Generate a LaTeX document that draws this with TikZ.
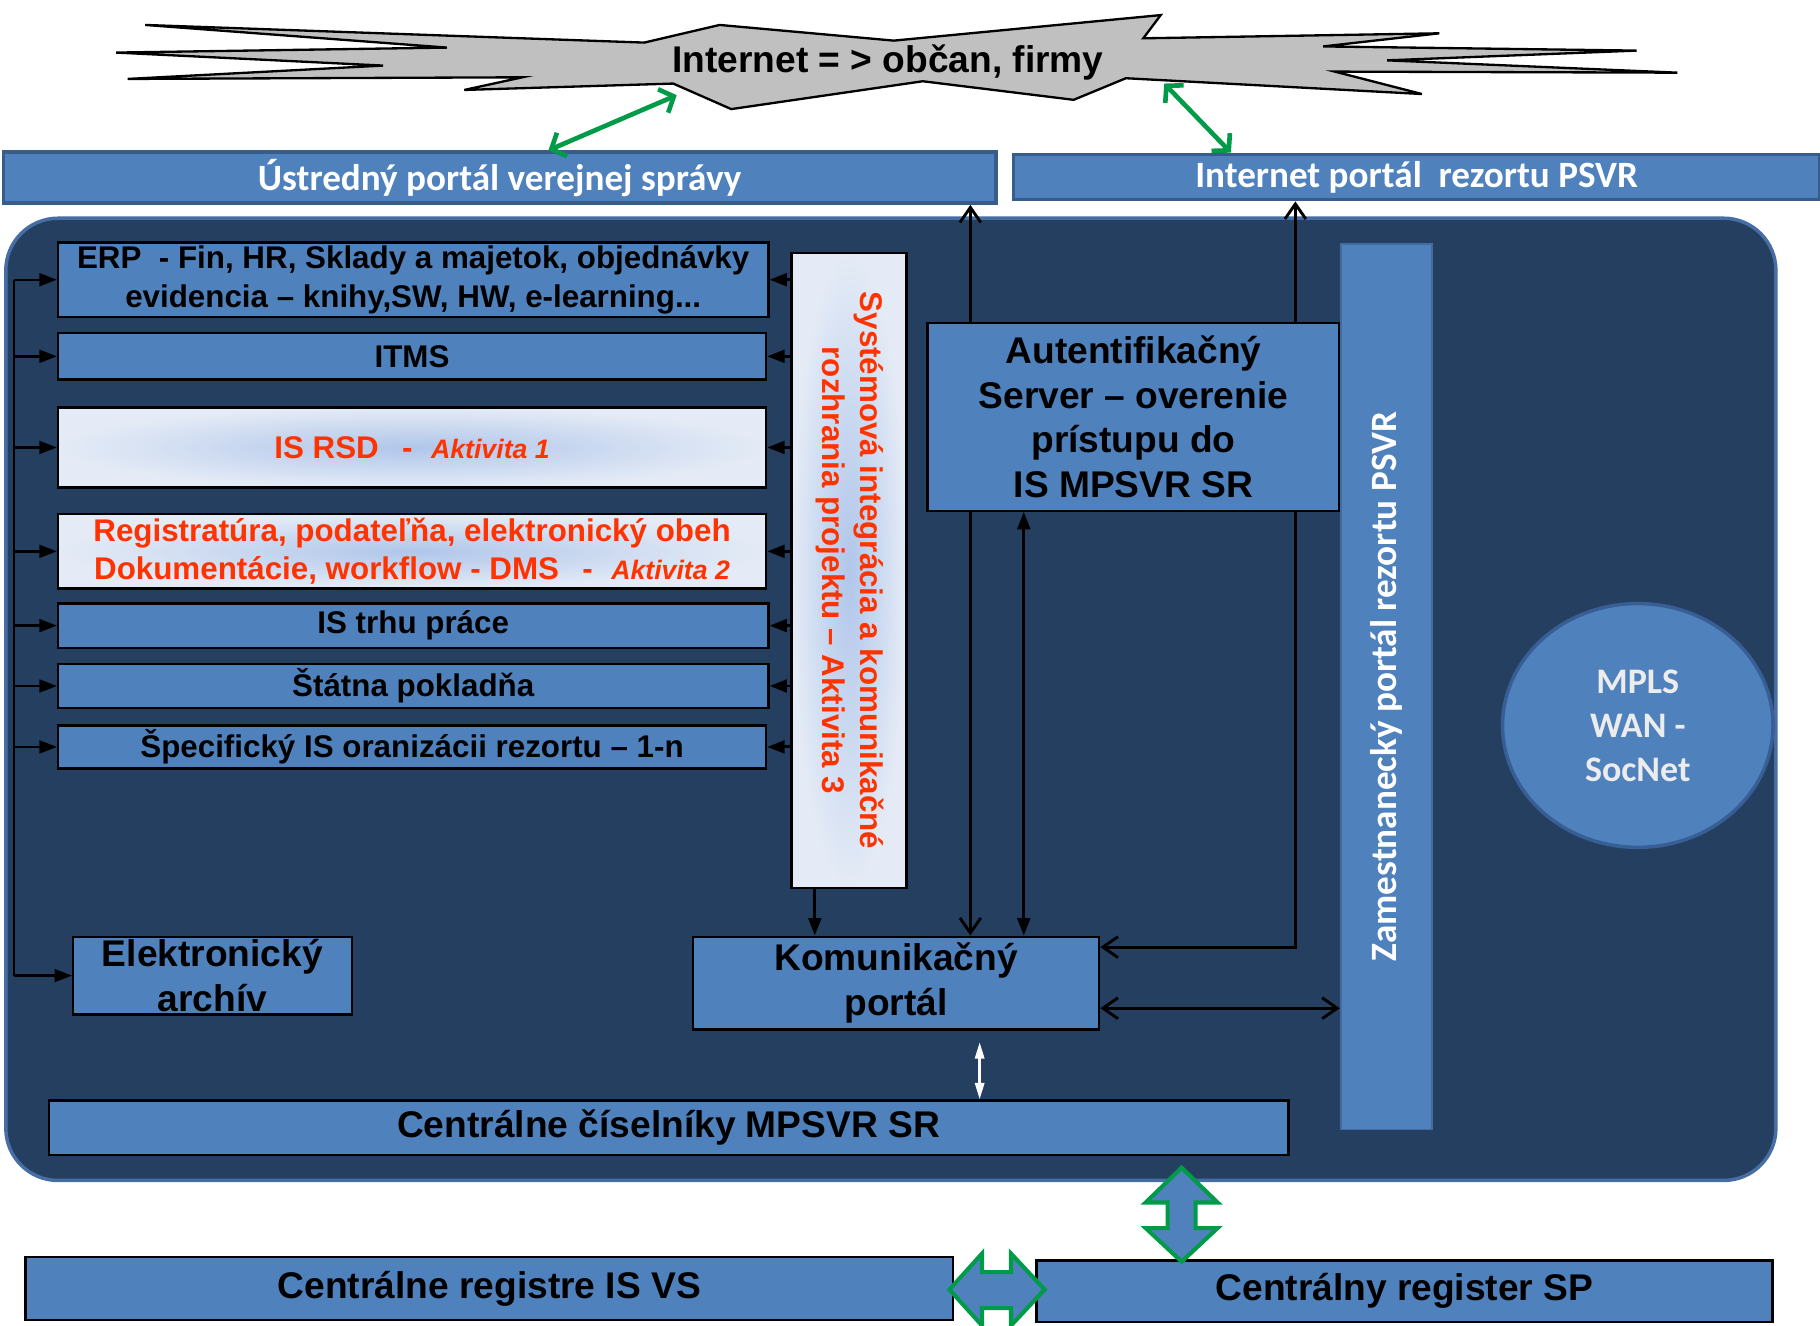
\documentclass[tikz,border=0pt]{standalone}
\usepackage{fontspec}
\setmainfont{Liberation Sans}
\newfontfamily\calibri{Carlito}
\usetikzlibrary{arrows.meta,shapes.geometric,calc}

\definecolor{boxblue}{RGB}{79,129,189}
\definecolor{navy}{RGB}{37,63,96}
\definecolor{panelrim}{RGB}{70,110,165}
\definecolor{barrim}{RGB}{56,93,138}
\definecolor{zamrim}{RGB}{66,108,160}
\definecolor{mplsrim}{RGB}{55,95,150}
\definecolor{mplstext}{RGB}{236,236,236}
\definecolor{actred}{RGB}{255,51,0}
\definecolor{okgreen}{RGB}{0,155,72}
\definecolor{burstgray}{RGB}{192,192,192}
\definecolor{liteblue}{RGB}{176,198,234}
\definecolor{paleblue}{RGB}{228,235,246}

\newcommand\fmain{\fontsize{27}{33}\selectfont\bfseries}
\newcommand\fbig{\fontsize{32}{38.5}\selectfont\bfseries}
\newcommand\fsmall{\fontsize{23}{28}\selectfont\bfseries\itshape}
\newcommand\fport{\calibri\fontsize{32}{38}\selectfont\bfseries}
\newcommand\fnet{\calibri\fontsize{31}{38}\selectfont\bfseries}

\pgfdeclarelayer{panel}
\pgfdeclarelayer{wires}
\pgfsetlayers{panel,wires,main}

\tikzset{
  sysbox/.style={draw=black, line width=2pt, fill=boxblue, inner sep=2pt, align=center, font=\fmain},
  litebox/.style={draw=black, line width=2pt, inner color=liteblue, outer color=paleblue, inner sep=2pt, align=center, font=\fmain, text=actred},
  portbar/.style={draw=barrim, line width=3pt, fill=boxblue, text=white, font=\fport, inner sep=0pt},
  wire/.style={line width=2.5pt, black},
  fillarrow/.style={wire, -{Triangle[length=15pt,width=11pt]}},
  filltwo/.style={wire, {Triangle[length=15pt,width=11pt]}-{Triangle[length=15pt,width=11pt]}},
  opentwo/.style={wire, {Straight Barb[length=13pt,width=18pt]}-{Straight Barb[length=13pt,width=18pt]}},
  whitetwo/.style={white, line width=2pt, {Triangle[length=14pt,width=8pt]}-{Triangle[length=14pt,width=8pt]}},
  greentwo/.style={okgreen, line width=4pt, {Straight Barb[length=10pt,width=22pt]}-{Straight Barb[length=10pt,width=22pt]}},
  blockarrow/.style={draw=okgreen, line width=3.5pt, fill=boxblue, line join=miter}
}

\begin{document}
\begin{tikzpicture}[x=1pt, y=-1pt]
  \useasboundingbox (0,0) rectangle (1568,1142);

  % dark panel behind the department systems
  \begin{pgfonlayer}{panel}
    \draw[draw=panelrim, line width=3pt, fill=navy, rounded corners=45pt] (5,188) rectangle (1530,1017);
  \end{pgfonlayer}

  % internet burst
  \draw[line width=2pt, fill=burstgray, line join=miter]
    (125,21.5) -- (555,36.7) -- (620,21.5) -- (770,35) -- (1000,13) -- (985,33)
    -- (1240,28.7) -- (1140,40) -- (1410,43.6) -- (1195,52) -- (1445,62.6)
    -- (1150,61.7) -- (1225,81) -- (970,67.4) -- (925,86) -- (795,70) -- (630,94)
    -- (580,72) -- (400,77.5) -- (450,66.6) -- (110,68) -- (330,56.5) -- (100,45.3)
    -- (385,41) -- cycle;
  \node[font=\fbig] (inet) at (765,54) {Internet = > občan, firmy};
  \coordinate (b1) at (583,82);
  \coordinate (b2) at (1003,72);

  \begin{scope}[every node/.style={portbar}]
    \node[minimum width=855pt, minimum height=44pt] (port1) at (430.5,153) {Ústredný portál verejnej správy};
    \node[minimum width=695pt, minimum height=39pt] (port2) at (1220.5,152.5) {Internet portál\ \ rezortu PSVR};
  \end{scope}

  \begin{scope}[every node/.style={sysbox}]
    \node[minimum width=612pt, minimum height=64pt] (erp)  at (356,241) {ERP\ \ - Fin, HR, Sklady a majetok, objednávky\\evidencia – knihy,SW, HW, e-learning...};
    \node[minimum width=610pt, minimum height=40pt] (itms) at (355,307) {ITMS};
    \node[litebox, minimum width=610pt, minimum height=69pt] (rsd) at (355,385.5) {IS RSD\hspace{20pt}-\hspace{16pt}{\fsmall Aktivita 1}};
    \node[litebox, minimum width=610pt, minimum height=64pt] (reg) at (355,475) {Registratúra, podateľňa, elektronický obeh\\Dokumentácie, workflow - DMS\hspace{20pt}-\hspace{16pt}{\fsmall Aktivita 2}};
    \node[minimum width=612pt, minimum height=38pt] (trh)  at (356,539) {IS trhu práce};
    \node[minimum width=612pt, minimum height=38pt] (pokl) at (356,591) {Štátna pokladňa};
    \node[minimum width=610pt, minimum height=37pt] (spec) at (355,643.5) {Špecifický IS oranizácii rezortu – 1-n};
    \node[font=\fbig, minimum width=240pt, minimum height=67pt] (arch) at (183,840.5) {Elektronický\\archív};

    \node[litebox, minimum width=99pt, minimum height=547pt] (sys) at (731.5,491.5)
      {\rotatebox{-90}{\begin{tabular}{@{}c@{}}Systémová integrácia a komunikačné\\rozhrania projektu – Aktivita 3\end{tabular}}};
    \node[font=\fbig, minimum width=355pt, minimum height=162pt] (auth) at (976.5,359) {Autentifikačný\\Server – overenie\\prístupu do\\IS MPSVR SR};
    \node[font=\fbig, minimum width=350pt, minimum height=80pt] (kom) at (772,847) {Komunikačný\\portál};
    \node[font=\fbig, minimum width=1068pt, minimum height=47pt] (cis) at (576,971.5) {Centrálne číselníky MPSVR SR};

    \node[font=\fbig, minimum width=799pt, minimum height=54pt] (isvs) at (421.5,1110) {Centrálne registre IS VS};
    \node[font=\fbig, minimum width=634pt, minimum height=53pt] (sp) at (1210,1112.5) {Centrálny register SP};
  \end{scope}

  \node[portbar, draw=zamrim, line width=1.5pt, minimum width=79pt, minimum height=763pt] (zam) at (1194.5,591.5)
    {\rotatebox{90}{Zamestnanecký portál rezortu PSVR}};
  \node[ellipse, fill=boxblue, draw=mplsrim, line width=3pt, text=mplstext, font=\fnet, align=center,
        minimum width=233pt, minimum height=210pt] (mpls) at (1411,625) {MPLS\\WAN -\\SocNet};

  \coordinate (bus) at (12,0);
  \coordinate (c1) at (836,0);
  \coordinate (c2) at (882,0);
  \coordinate (c3) at (1116,0);
  \coordinate (c4) at (844,0);
  \coordinate (c5) at (702,0);

  \begin{pgfonlayer}{wires}
    \draw[wire, line width=2pt] (bus |- erp.west) -- (bus |- arch.west);
    \foreach \n in {erp,itms,rsd,reg,trh,pokl,spec,arch}
      \draw[fillarrow, line width=2pt] (bus |- \n.west) -- (\n.west);
    \foreach \n in {erp,itms,rsd,reg,trh,pokl,spec}
      \draw[fillarrow] (sys.west |- \n.east) -- (\n.east);

    \draw[opentwo] (port1.south -| c1) -- (kom.north -| c1);
    \draw[filltwo] (auth.south -| c2) -- (kom.north -| c2);
    \draw[opentwo] (port2.south -| c3) |- (kom.10);
    \draw[opentwo] (kom.-7) -- (zam.west |- kom.-7);
    \draw[fillarrow] (sys.south -| c5) -- (kom.north -| c5);
    \draw[whitetwo, shorten <=10pt] (kom.south -| c4) -- (cis.north -| c4);
  \end{pgfonlayer}

  \draw[greentwo] ($(port1.north)+(42,0)$) -- (b1);
  \draw[greentwo] ($(port2.north)+(-160,0)$) -- (b2);

  % block arrows to the central registers
  \coordinate (vtop) at (1018,1006);
  \draw[blockarrow] (vtop) -- ++(31,30) -- ++(-19,0) -- ++(0,22) -- ++(19,0) -- ++(-31,29)
    -- ++(-31,-29) -- ++(19,0) -- ++(0,-22) -- ++(-19,0) -- cycle;
  \draw[blockarrow] ($(isvs.east)+(-4,1)$) -- ++(28,-31) -- ++(0,16) -- ++(25,0) -- ++(0,-16) -- ++(29,31)
    -- ++(-29,31) -- ++(0,-15) -- ++(-25,0) -- ++(0,15) -- cycle;
\end{tikzpicture}
\end{document}
